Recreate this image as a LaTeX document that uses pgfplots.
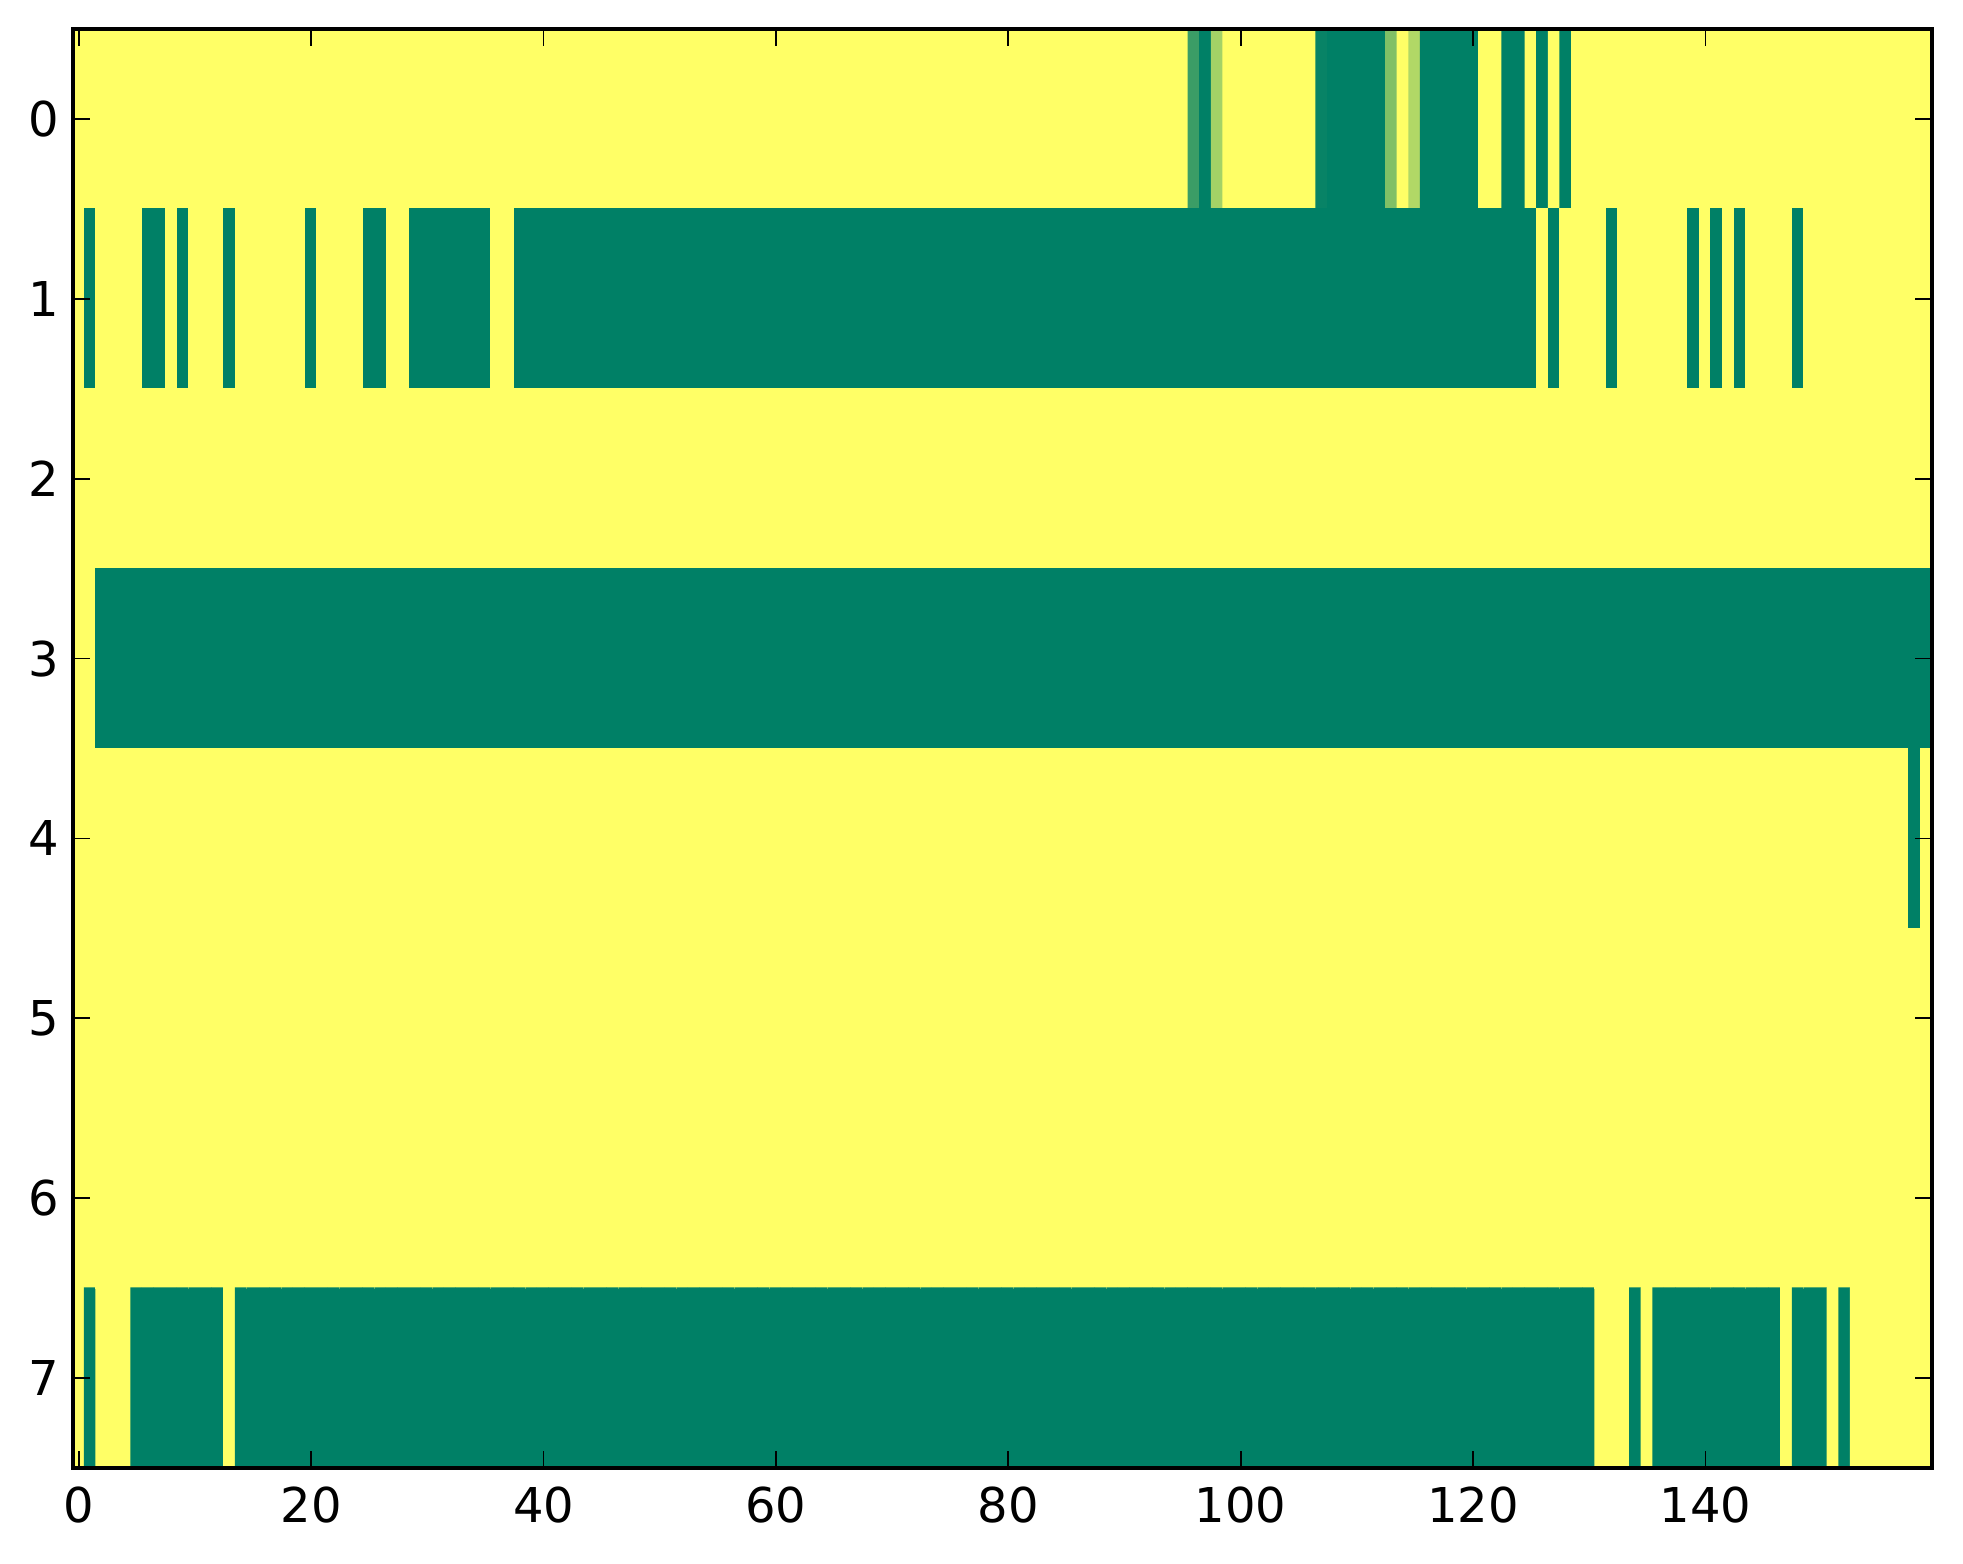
\documentclass[border=0pt]{standalone}
\usepackage{fontspec}
\setmainfont{DejaVu Sans}
\usepackage{pgfplots}
\usepackage{pgfplotstable}
\pgfplotsset{compat=1.18}
\pgfplotstableread[row sep=\\]{
x y c\\
0 0 1\\1 0 1\\2 0 1\\3 0 1\\4 0 1\\5 0 1\\6 0 1\\7 0 1\\8 0 1\\9 0 1\\
10 0 1\\11 0 1\\12 0 1\\13 0 1\\14 0 1\\15 0 1\\16 0 1\\17 0 1\\18 0 1\\19 0 1\\
20 0 1\\21 0 1\\22 0 1\\23 0 1\\24 0 1\\25 0 1\\26 0 1\\27 0 1\\28 0 1\\29 0 1\\
30 0 1\\31 0 1\\32 0 1\\33 0 1\\34 0 1\\35 0 1\\36 0 1\\37 0 1\\38 0 1\\39 0 1\\
40 0 1\\41 0 1\\42 0 1\\43 0 1\\44 0 1\\45 0 1\\46 0 1\\47 0 1\\48 0 1\\49 0 1\\
50 0 1\\51 0 1\\52 0 1\\53 0 1\\54 0 1\\55 0 1\\56 0 1\\57 0 1\\58 0 1\\59 0 1\\
60 0 1\\61 0 1\\62 0 1\\63 0 1\\64 0 1\\65 0 1\\66 0 1\\67 0 1\\68 0 1\\69 0 1\\
70 0 1\\71 0 1\\72 0 1\\73 0 1\\74 0 1\\75 0 1\\76 0 1\\77 0 1\\78 0 1\\79 0 1\\
80 0 1\\81 0 1\\82 0 1\\83 0 1\\84 0 1\\85 0 1\\86 0 1\\87 0 1\\88 0 1\\89 0 1\\
90 0 1\\91 0 1\\92 0 1\\93 0 1\\94 0 1\\95 0 1\\96 0 0.23\\97 0 0\\98 0 0.64\\99 0 1\\
100 0 1\\101 0 1\\102 0 1\\103 0 1\\104 0 1\\105 0 1\\106 0 1\\107 0 0.03\\108 0 0\\109 0 0\\
110 0 0\\111 0 0\\112 0 0\\113 0 0.5\\114 0 1\\115 0 0.69\\116 0 0\\117 0 0\\118 0 0\\119 0 0\\
120 0 0\\121 0 1\\122 0 1\\123 0 0\\124 0 0\\125 0 1\\126 0 0\\127 0 1\\128 0 0\\129 0 1\\
130 0 1\\131 0 1\\132 0 1\\133 0 1\\134 0 1\\135 0 1\\136 0 1\\137 0 1\\138 0 1\\139 0 1\\
140 0 1\\141 0 1\\142 0 1\\143 0 1\\144 0 1\\145 0 1\\146 0 1\\147 0 1\\148 0 1\\149 0 1\\
150 0 1\\151 0 1\\152 0 1\\153 0 1\\154 0 1\\155 0 1\\156 0 1\\157 0 1\\158 0 1\\159 0 1\\
0 1 1\\1 1 0\\2 1 1\\3 1 1\\4 1 1\\5 1 1\\6 1 0\\7 1 0\\8 1 1\\9 1 0\\
10 1 1\\11 1 1\\12 1 1\\13 1 0\\14 1 1\\15 1 1\\16 1 1\\17 1 1\\18 1 1\\19 1 1\\
20 1 0\\21 1 1\\22 1 1\\23 1 1\\24 1 1\\25 1 0\\26 1 0\\27 1 1\\28 1 1\\29 1 0\\
30 1 0\\31 1 0\\32 1 0\\33 1 0\\34 1 0\\35 1 0\\36 1 1\\37 1 1\\38 1 0\\39 1 0\\
40 1 0\\41 1 0\\42 1 0\\43 1 0\\44 1 0\\45 1 0\\46 1 0\\47 1 0\\48 1 0\\49 1 0\\
50 1 0\\51 1 0\\52 1 0\\53 1 0\\54 1 0\\55 1 0\\56 1 0\\57 1 0\\58 1 0\\59 1 0\\
60 1 0\\61 1 0\\62 1 0\\63 1 0\\64 1 0\\65 1 0\\66 1 0\\67 1 0\\68 1 0\\69 1 0\\
70 1 0\\71 1 0\\72 1 0\\73 1 0\\74 1 0\\75 1 0\\76 1 0\\77 1 0\\78 1 0\\79 1 0\\
80 1 0\\81 1 0\\82 1 0\\83 1 0\\84 1 0\\85 1 0\\86 1 0\\87 1 0\\88 1 0\\89 1 0\\
90 1 0\\91 1 0\\92 1 0\\93 1 0\\94 1 0\\95 1 0\\96 1 0\\97 1 0\\98 1 0\\99 1 0\\
100 1 0\\101 1 0\\102 1 0\\103 1 0\\104 1 0\\105 1 0\\106 1 0\\107 1 0\\108 1 0\\109 1 0\\
110 1 0\\111 1 0\\112 1 0\\113 1 0\\114 1 0\\115 1 0\\116 1 0\\117 1 0\\118 1 0\\119 1 0\\
120 1 0\\121 1 0\\122 1 0\\123 1 0\\124 1 0\\125 1 0\\126 1 1\\127 1 0\\128 1 1\\129 1 1\\
130 1 1\\131 1 1\\132 1 0\\133 1 1\\134 1 1\\135 1 1\\136 1 1\\137 1 1\\138 1 1\\139 1 0\\
140 1 1\\141 1 0\\142 1 1\\143 1 0\\144 1 1\\145 1 1\\146 1 1\\147 1 1\\148 1 0\\149 1 1\\
150 1 1\\151 1 1\\152 1 1\\153 1 1\\154 1 1\\155 1 1\\156 1 1\\157 1 1\\158 1 1\\159 1 1\\
0 2 1\\1 2 1\\2 2 1\\3 2 1\\4 2 1\\5 2 1\\6 2 1\\7 2 1\\8 2 1\\9 2 1\\
10 2 1\\11 2 1\\12 2 1\\13 2 1\\14 2 1\\15 2 1\\16 2 1\\17 2 1\\18 2 1\\19 2 1\\
20 2 1\\21 2 1\\22 2 1\\23 2 1\\24 2 1\\25 2 1\\26 2 1\\27 2 1\\28 2 1\\29 2 1\\
30 2 1\\31 2 1\\32 2 1\\33 2 1\\34 2 1\\35 2 1\\36 2 1\\37 2 1\\38 2 1\\39 2 1\\
40 2 1\\41 2 1\\42 2 1\\43 2 1\\44 2 1\\45 2 1\\46 2 1\\47 2 1\\48 2 1\\49 2 1\\
50 2 1\\51 2 1\\52 2 1\\53 2 1\\54 2 1\\55 2 1\\56 2 1\\57 2 1\\58 2 1\\59 2 1\\
60 2 1\\61 2 1\\62 2 1\\63 2 1\\64 2 1\\65 2 1\\66 2 1\\67 2 1\\68 2 1\\69 2 1\\
70 2 1\\71 2 1\\72 2 1\\73 2 1\\74 2 1\\75 2 1\\76 2 1\\77 2 1\\78 2 1\\79 2 1\\
80 2 1\\81 2 1\\82 2 1\\83 2 1\\84 2 1\\85 2 1\\86 2 1\\87 2 1\\88 2 1\\89 2 1\\
90 2 1\\91 2 1\\92 2 1\\93 2 1\\94 2 1\\95 2 1\\96 2 1\\97 2 1\\98 2 1\\99 2 1\\
100 2 1\\101 2 1\\102 2 1\\103 2 1\\104 2 1\\105 2 1\\106 2 1\\107 2 1\\108 2 1\\109 2 1\\
110 2 1\\111 2 1\\112 2 1\\113 2 1\\114 2 1\\115 2 1\\116 2 1\\117 2 1\\118 2 1\\119 2 1\\
120 2 1\\121 2 1\\122 2 1\\123 2 1\\124 2 1\\125 2 1\\126 2 1\\127 2 1\\128 2 1\\129 2 1\\
130 2 1\\131 2 1\\132 2 1\\133 2 1\\134 2 1\\135 2 1\\136 2 1\\137 2 1\\138 2 1\\139 2 1\\
140 2 1\\141 2 1\\142 2 1\\143 2 1\\144 2 1\\145 2 1\\146 2 1\\147 2 1\\148 2 1\\149 2 1\\
150 2 1\\151 2 1\\152 2 1\\153 2 1\\154 2 1\\155 2 1\\156 2 1\\157 2 1\\158 2 1\\159 2 1\\
0 3 1\\1 3 1\\2 3 0\\3 3 0\\4 3 0\\5 3 0\\6 3 0\\7 3 0\\8 3 0\\9 3 0\\
10 3 0\\11 3 0\\12 3 0\\13 3 0\\14 3 0\\15 3 0\\16 3 0\\17 3 0\\18 3 0\\19 3 0\\
20 3 0\\21 3 0\\22 3 0\\23 3 0\\24 3 0\\25 3 0\\26 3 0\\27 3 0\\28 3 0\\29 3 0\\
30 3 0\\31 3 0\\32 3 0\\33 3 0\\34 3 0\\35 3 0\\36 3 0\\37 3 0\\38 3 0\\39 3 0\\
40 3 0\\41 3 0\\42 3 0\\43 3 0\\44 3 0\\45 3 0\\46 3 0\\47 3 0\\48 3 0\\49 3 0\\
50 3 0\\51 3 0\\52 3 0\\53 3 0\\54 3 0\\55 3 0\\56 3 0\\57 3 0\\58 3 0\\59 3 0\\
60 3 0\\61 3 0\\62 3 0\\63 3 0\\64 3 0\\65 3 0\\66 3 0\\67 3 0\\68 3 0\\69 3 0\\
70 3 0\\71 3 0\\72 3 0\\73 3 0\\74 3 0\\75 3 0\\76 3 0\\77 3 0\\78 3 0\\79 3 0\\
80 3 0\\81 3 0\\82 3 0\\83 3 0\\84 3 0\\85 3 0\\86 3 0\\87 3 0\\88 3 0\\89 3 0\\
90 3 0\\91 3 0\\92 3 0\\93 3 0\\94 3 0\\95 3 0\\96 3 0\\97 3 0\\98 3 0\\99 3 0\\
100 3 0\\101 3 0\\102 3 0\\103 3 0\\104 3 0\\105 3 0\\106 3 0\\107 3 0\\108 3 0\\109 3 0\\
110 3 0\\111 3 0\\112 3 0\\113 3 0\\114 3 0\\115 3 0\\116 3 0\\117 3 0\\118 3 0\\119 3 0\\
120 3 0\\121 3 0\\122 3 0\\123 3 0\\124 3 0\\125 3 0\\126 3 0\\127 3 0\\128 3 0\\129 3 0\\
130 3 0\\131 3 0\\132 3 0\\133 3 0\\134 3 0\\135 3 0\\136 3 0\\137 3 0\\138 3 0\\139 3 0\\
140 3 0\\141 3 0\\142 3 0\\143 3 0\\144 3 0\\145 3 0\\146 3 0\\147 3 0\\148 3 0\\149 3 0\\
150 3 0\\151 3 0\\152 3 0\\153 3 0\\154 3 0\\155 3 0\\156 3 0\\157 3 0\\158 3 0\\159 3 0\\
0 4 1\\1 4 1\\2 4 1\\3 4 1\\4 4 1\\5 4 1\\6 4 1\\7 4 1\\8 4 1\\9 4 1\\
10 4 1\\11 4 1\\12 4 1\\13 4 1\\14 4 1\\15 4 1\\16 4 1\\17 4 1\\18 4 1\\19 4 1\\
20 4 1\\21 4 1\\22 4 1\\23 4 1\\24 4 1\\25 4 1\\26 4 1\\27 4 1\\28 4 1\\29 4 1\\
30 4 1\\31 4 1\\32 4 1\\33 4 1\\34 4 1\\35 4 1\\36 4 1\\37 4 1\\38 4 1\\39 4 1\\
40 4 1\\41 4 1\\42 4 1\\43 4 1\\44 4 1\\45 4 1\\46 4 1\\47 4 1\\48 4 1\\49 4 1\\
50 4 1\\51 4 1\\52 4 1\\53 4 1\\54 4 1\\55 4 1\\56 4 1\\57 4 1\\58 4 1\\59 4 1\\
60 4 1\\61 4 1\\62 4 1\\63 4 1\\64 4 1\\65 4 1\\66 4 1\\67 4 1\\68 4 1\\69 4 1\\
70 4 1\\71 4 1\\72 4 1\\73 4 1\\74 4 1\\75 4 1\\76 4 1\\77 4 1\\78 4 1\\79 4 1\\
80 4 1\\81 4 1\\82 4 1\\83 4 1\\84 4 1\\85 4 1\\86 4 1\\87 4 1\\88 4 1\\89 4 1\\
90 4 1\\91 4 1\\92 4 1\\93 4 1\\94 4 1\\95 4 1\\96 4 1\\97 4 1\\98 4 1\\99 4 1\\
100 4 1\\101 4 1\\102 4 1\\103 4 1\\104 4 1\\105 4 1\\106 4 1\\107 4 1\\108 4 1\\109 4 1\\
110 4 1\\111 4 1\\112 4 1\\113 4 1\\114 4 1\\115 4 1\\116 4 1\\117 4 1\\118 4 1\\119 4 1\\
120 4 1\\121 4 1\\122 4 1\\123 4 1\\124 4 1\\125 4 1\\126 4 1\\127 4 1\\128 4 1\\129 4 1\\
130 4 1\\131 4 1\\132 4 1\\133 4 1\\134 4 1\\135 4 1\\136 4 1\\137 4 1\\138 4 1\\139 4 1\\
140 4 1\\141 4 1\\142 4 1\\143 4 1\\144 4 1\\145 4 1\\146 4 1\\147 4 1\\148 4 1\\149 4 1\\
150 4 1\\151 4 1\\152 4 1\\153 4 1\\154 4 1\\155 4 1\\156 4 1\\157 4 1\\158 4 0\\159 4 1\\
0 5 1\\1 5 1\\2 5 1\\3 5 1\\4 5 1\\5 5 1\\6 5 1\\7 5 1\\8 5 1\\9 5 1\\
10 5 1\\11 5 1\\12 5 1\\13 5 1\\14 5 1\\15 5 1\\16 5 1\\17 5 1\\18 5 1\\19 5 1\\
20 5 1\\21 5 1\\22 5 1\\23 5 1\\24 5 1\\25 5 1\\26 5 1\\27 5 1\\28 5 1\\29 5 1\\
30 5 1\\31 5 1\\32 5 1\\33 5 1\\34 5 1\\35 5 1\\36 5 1\\37 5 1\\38 5 1\\39 5 1\\
40 5 1\\41 5 1\\42 5 1\\43 5 1\\44 5 1\\45 5 1\\46 5 1\\47 5 1\\48 5 1\\49 5 1\\
50 5 1\\51 5 1\\52 5 1\\53 5 1\\54 5 1\\55 5 1\\56 5 1\\57 5 1\\58 5 1\\59 5 1\\
60 5 1\\61 5 1\\62 5 1\\63 5 1\\64 5 1\\65 5 1\\66 5 1\\67 5 1\\68 5 1\\69 5 1\\
70 5 1\\71 5 1\\72 5 1\\73 5 1\\74 5 1\\75 5 1\\76 5 1\\77 5 1\\78 5 1\\79 5 1\\
80 5 1\\81 5 1\\82 5 1\\83 5 1\\84 5 1\\85 5 1\\86 5 1\\87 5 1\\88 5 1\\89 5 1\\
90 5 1\\91 5 1\\92 5 1\\93 5 1\\94 5 1\\95 5 1\\96 5 1\\97 5 1\\98 5 1\\99 5 1\\
100 5 1\\101 5 1\\102 5 1\\103 5 1\\104 5 1\\105 5 1\\106 5 1\\107 5 1\\108 5 1\\109 5 1\\
110 5 1\\111 5 1\\112 5 1\\113 5 1\\114 5 1\\115 5 1\\116 5 1\\117 5 1\\118 5 1\\119 5 1\\
120 5 1\\121 5 1\\122 5 1\\123 5 1\\124 5 1\\125 5 1\\126 5 1\\127 5 1\\128 5 1\\129 5 1\\
130 5 1\\131 5 1\\132 5 1\\133 5 1\\134 5 1\\135 5 1\\136 5 1\\137 5 1\\138 5 1\\139 5 1\\
140 5 1\\141 5 1\\142 5 1\\143 5 1\\144 5 1\\145 5 1\\146 5 1\\147 5 1\\148 5 1\\149 5 1\\
150 5 1\\151 5 1\\152 5 1\\153 5 1\\154 5 1\\155 5 1\\156 5 1\\157 5 1\\158 5 1\\159 5 1\\
0 6 1\\1 6 1\\2 6 1\\3 6 1\\4 6 1\\5 6 1\\6 6 1\\7 6 1\\8 6 1\\9 6 1\\
10 6 1\\11 6 1\\12 6 1\\13 6 1\\14 6 1\\15 6 1\\16 6 1\\17 6 1\\18 6 1\\19 6 1\\
20 6 1\\21 6 1\\22 6 1\\23 6 1\\24 6 1\\25 6 1\\26 6 1\\27 6 1\\28 6 1\\29 6 1\\
30 6 1\\31 6 1\\32 6 1\\33 6 1\\34 6 1\\35 6 1\\36 6 1\\37 6 1\\38 6 1\\39 6 1\\
40 6 1\\41 6 1\\42 6 1\\43 6 1\\44 6 1\\45 6 1\\46 6 1\\47 6 1\\48 6 1\\49 6 1\\
50 6 1\\51 6 1\\52 6 1\\53 6 1\\54 6 1\\55 6 1\\56 6 1\\57 6 1\\58 6 1\\59 6 1\\
60 6 1\\61 6 1\\62 6 1\\63 6 1\\64 6 1\\65 6 1\\66 6 1\\67 6 1\\68 6 1\\69 6 1\\
70 6 1\\71 6 1\\72 6 1\\73 6 1\\74 6 1\\75 6 1\\76 6 1\\77 6 1\\78 6 1\\79 6 1\\
80 6 1\\81 6 1\\82 6 1\\83 6 1\\84 6 1\\85 6 1\\86 6 1\\87 6 1\\88 6 1\\89 6 1\\
90 6 1\\91 6 1\\92 6 1\\93 6 1\\94 6 1\\95 6 1\\96 6 1\\97 6 1\\98 6 1\\99 6 1\\
100 6 1\\101 6 1\\102 6 1\\103 6 1\\104 6 1\\105 6 1\\106 6 1\\107 6 1\\108 6 1\\109 6 1\\
110 6 1\\111 6 1\\112 6 1\\113 6 1\\114 6 1\\115 6 1\\116 6 1\\117 6 1\\118 6 1\\119 6 1\\
120 6 1\\121 6 1\\122 6 1\\123 6 1\\124 6 1\\125 6 1\\126 6 1\\127 6 1\\128 6 1\\129 6 1\\
130 6 1\\131 6 1\\132 6 1\\133 6 1\\134 6 1\\135 6 1\\136 6 1\\137 6 1\\138 6 1\\139 6 1\\
140 6 1\\141 6 1\\142 6 1\\143 6 1\\144 6 1\\145 6 1\\146 6 1\\147 6 1\\148 6 1\\149 6 1\\
150 6 1\\151 6 1\\152 6 1\\153 6 1\\154 6 1\\155 6 1\\156 6 1\\157 6 1\\158 6 1\\159 6 1\\
0 7 1\\1 7 0\\2 7 1\\3 7 1\\4 7 1\\5 7 0\\6 7 0\\7 7 0\\8 7 0\\9 7 0\\
10 7 0\\11 7 0\\12 7 0\\13 7 1\\14 7 0\\15 7 0\\16 7 0\\17 7 0\\18 7 0\\19 7 0\\
20 7 0\\21 7 0\\22 7 0\\23 7 0\\24 7 0\\25 7 0\\26 7 0\\27 7 0\\28 7 0\\29 7 0\\
30 7 0\\31 7 0\\32 7 0\\33 7 0\\34 7 0\\35 7 0\\36 7 0\\37 7 0\\38 7 0\\39 7 0\\
40 7 0\\41 7 0\\42 7 0\\43 7 0\\44 7 0\\45 7 0\\46 7 0\\47 7 0\\48 7 0\\49 7 0\\
50 7 0\\51 7 0\\52 7 0\\53 7 0\\54 7 0\\55 7 0\\56 7 0\\57 7 0\\58 7 0\\59 7 0\\
60 7 0\\61 7 0\\62 7 0\\63 7 0\\64 7 0\\65 7 0\\66 7 0\\67 7 0\\68 7 0\\69 7 0\\
70 7 0\\71 7 0\\72 7 0\\73 7 0\\74 7 0\\75 7 0\\76 7 0\\77 7 0\\78 7 0\\79 7 0\\
80 7 0\\81 7 0\\82 7 0\\83 7 0\\84 7 0\\85 7 0\\86 7 0\\87 7 0\\88 7 0\\89 7 0\\
90 7 0\\91 7 0\\92 7 0\\93 7 0\\94 7 0\\95 7 0\\96 7 0\\97 7 0\\98 7 0\\99 7 0\\
100 7 0\\101 7 0\\102 7 0\\103 7 0\\104 7 0\\105 7 0\\106 7 0\\107 7 0\\108 7 0\\109 7 0\\
110 7 0\\111 7 0\\112 7 0\\113 7 0\\114 7 0\\115 7 0\\116 7 0\\117 7 0\\118 7 0\\119 7 0\\
120 7 0\\121 7 0\\122 7 0\\123 7 0\\124 7 0\\125 7 0\\126 7 0\\127 7 0\\128 7 0\\129 7 0\\
130 7 0\\131 7 1\\132 7 1\\133 7 1\\134 7 0\\135 7 1\\136 7 0\\137 7 0\\138 7 0\\139 7 0\\
140 7 0\\141 7 0\\142 7 0\\143 7 0\\144 7 0\\145 7 0\\146 7 0\\147 7 1\\148 7 0\\149 7 0\\
150 7 0\\151 7 1\\152 7 0\\153 7 1\\154 7 1\\155 7 1\\156 7 1\\157 7 1\\158 7 1\\159 7 1\\
}\griddata
\begin{document}
\begin{tikzpicture}
\begin{axis}[
  scale only axis,
  width=464.75pt, height=359.75pt,
  xmin=-0.5, xmax=159.5, ymin=-0.5, ymax=7.5,
  y dir=reverse,
  axis on top,
  colormap={summer}{rgb=(0,0.5,0.4) rgb=(1,1,0.4)},
  point meta min=0, point meta max=1,
  xtick={0,20,40,60,80,100,120,140},
  ytick={0,1,2,3,4,5,6,7},
  minor tick num=0,
  tick align=inside,
  major tick length=4.25pt,
  major tick style={black, line width=0.45pt},
  axis line style={black, line width=0.85pt},
  ticklabel style={font=\fontsize{12}{14}\selectfont},
  xticklabel style={yshift=-1.3pt},
  /pgf/number format/assume math mode=true,
]
\addplot[matrix plot*, mesh/cols=160, point meta=explicit, draw=none]
  table[x=x, y=y, meta=c] {\griddata};
\end{axis}
\pgfresetboundingbox
\path[use as bounding box] ([xshift=-18.25pt,yshift=-24pt]current axis.south west) rectangle ([xshift=7.75pt,yshift=7.25pt]current axis.north east);
\end{tikzpicture}
\end{document}
